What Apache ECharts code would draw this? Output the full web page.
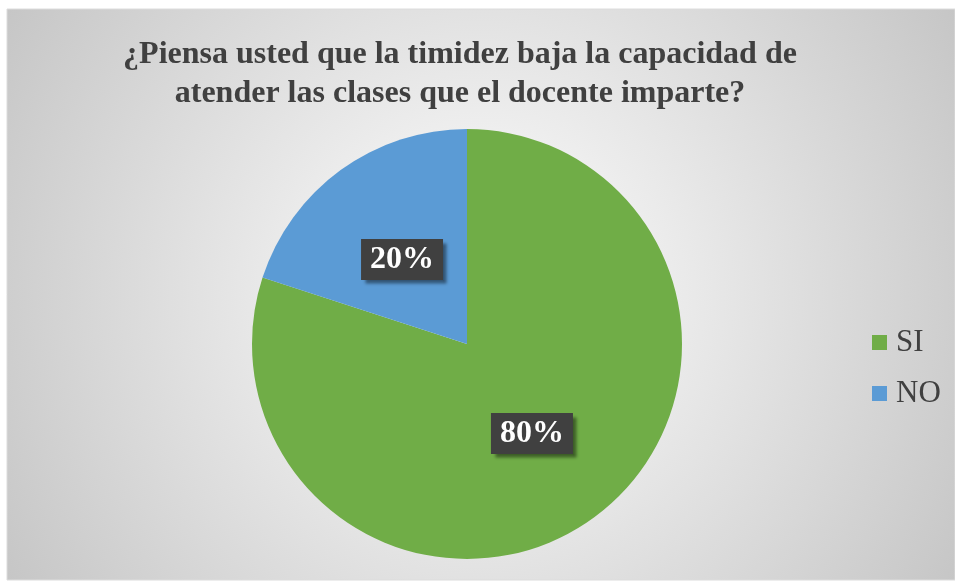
<!DOCTYPE html>
<html>
<head>
<meta charset="utf-8">
<script src="https://cdn.jsdelivr.net/npm/echarts@6/dist/echarts.min.js"></script>
<style>
  html, body { margin: 0; padding: 0; background: #fff; }
  #main { width: 955px; height: 583px; }
</style>
</head>
<body>
<div id="main"></div>
<script>
// datos de la encuesta
const categories = ["SI", "NO"];
const values = [80, 20];
const colors = ["#70ad47", "#5b9bd5"];
const titleText = "¿Piensa usted que la timidez baja la capacidad de\natender las clases que el docente imparte?";

const myChart = echarts.init(document.getElementById("main"));

myChart.setOption({
  backgroundColor: "#ffffff",
  animation: false,
  graphic: [
    {
      type: "rect",
      z: -10,
      shape: { x: 7, y: 9, width: 948, height: 571 },
      style: {
        fill: {
          type: "radial", x: 0.5, y: 0.5, r: 1,
          colorStops: [
            { offset: 0, color: "#ffffff" },
            { offset: 1, color: "#c4c4c4" },
          ],
        },
        stroke: "#dcdcdc",
        lineWidth: 1,
      },
    },
  ],
  title: {
    text: titleText,
    left: 455,
    top: 30,
    textAlign: "center",
    textStyle: {
      fontFamily: "Liberation Serif",
      fontWeight: "bold",
      fontSize: 32,
      lineHeight: 39,
      color: "#404040",
    },
  },
  legend: {
    orient: "vertical",
    left: 867,
    top: 322,
    itemWidth: 15,
    itemHeight: 15,
    itemGap: 20,
    icon: "rect",
    data: categories,
    textStyle: {
      fontFamily: "Liberation Serif",
      fontSize: 31,
      color: "#404040",
      padding: [0, 0, 0, 4],
    },
  },
  series: [
    {
      type: "pie",
      center: [467, 344],
      radius: [0, 215],
      startAngle: 90,
      clockwise: true,
      itemStyle: { borderWidth: 0 },
      label: {
        position: "inside",
        formatter: "{c}%",
        fontFamily: "Liberation Serif",
        fontWeight: "bold",
        fontSize: 32,
        color: "#ffffff",
        backgroundColor: "#404040",
        padding: [5, 9, 4, 9],
        shadowColor: "rgba(0,0,0,0.45)",
        shadowBlur: 3,
        shadowOffsetX: 4,
        shadowOffsetY: 4,
      },
      labelLine: { show: false },
      data: categories.map((name, i) => ({
        name: name,
        value: values[i],
        itemStyle: { color: colors[i] },
        label: { offset: [0, i === 1 ? 5 : 0] },
      })),
    },
  ],
});
</script>
</body>
</html>
